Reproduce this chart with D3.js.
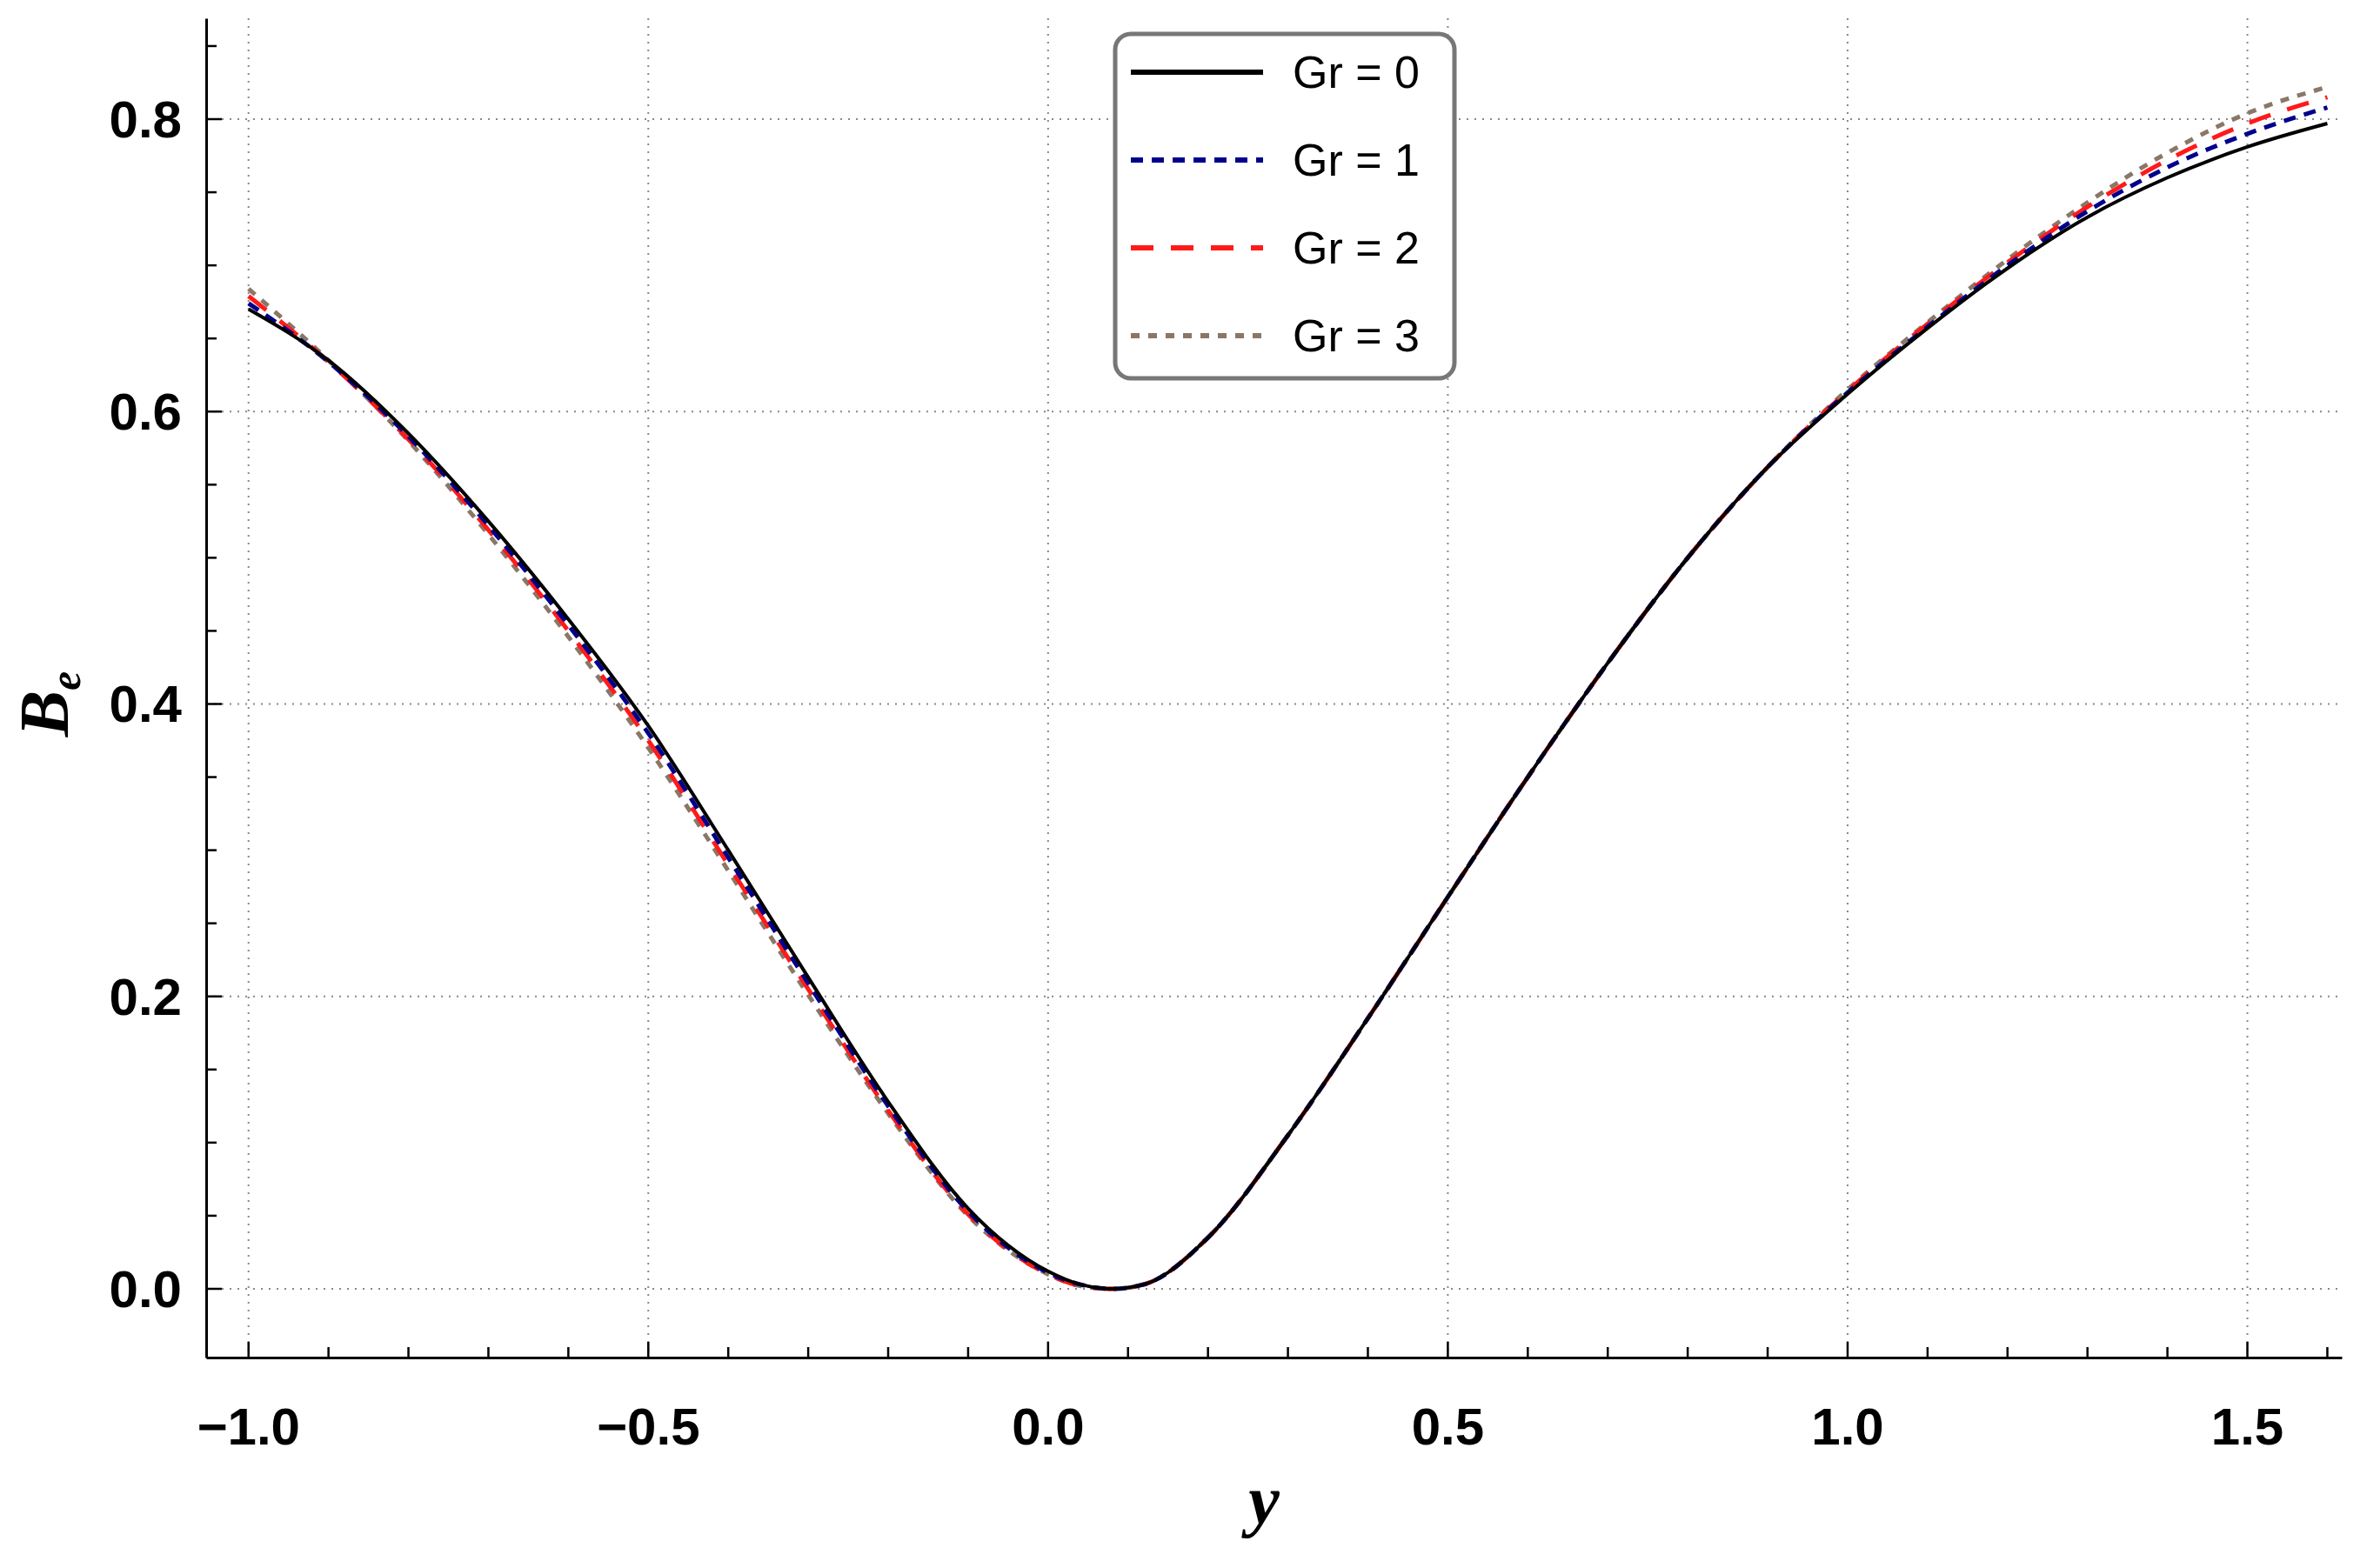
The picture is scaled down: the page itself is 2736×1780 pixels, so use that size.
<!DOCTYPE html>
<html><head><meta charset="utf-8">
<script src="https://cdn.jsdelivr.net/npm/d3@7"></script>
<style>body{margin:0;background:#fff}</style></head>
<body><svg id="c" width="2736" height="1780"></svg>
<script>
const xs = [-1,-0.9,-0.8,-0.7,-0.6,-0.5,-0.4,-0.3,-0.2,-0.1,0,0.04,0.08,0.12,0.2,0.3,0.4,0.5,0.6,0.7,0.8,0.9,1.0,1.1,1.2,1.3,1.4,1.5,1.6];
const gr0 = [0.670,0.635,0.585,0.525,0.458,0.385,0.300,0.213,0.128,0.055,0.012,0.003,0,0.003,0.035,0.105,0.185,0.268,0.350,0.428,0.500,0.562,0.612,0.657,0.698,0.733,0.760,0.781,0.797];
const gr1 = [0.674,0.634,0.583,0.522,0.454,0.380,0.295,0.209,0.125,0.053,0.011,0.003,0,0.003,0.035,0.105,0.185,0.268,0.350,0.428,0.500,0.562,0.613,0.658,0.700,0.737,0.767,0.790,0.808];
const gr2 = [0.679,0.634,0.581,0.519,0.450,0.375,0.290,0.205,0.122,0.051,0.010,0.002,0,0.003,0.035,0.105,0.185,0.268,0.350,0.428,0.500,0.562,0.614,0.660,0.702,0.740,0.772,0.797,0.815];
const gr3 = [0.684,0.635,0.580,0.516,0.446,0.370,0.286,0.201,0.120,0.050,0.010,0.002,0,0.003,0.035,0.105,0.185,0.268,0.350,0.428,0.500,0.562,0.615,0.661,0.704,0.743,0.777,0.804,0.822];
const labels = ["Gr = 0","Gr = 1","Gr = 2","Gr = 3"];
const colors = ["#000000","#00008b","#ff1a1a","#8b7766"];
const dashes = [null,"14,10,14,10","26,20","10,10"];
const xTicks = [-1,-0.5,0,0.5,1,1.5];
const yTicks = [0,0.2,0.4,0.6,0.8];

const svg = d3.select("#c");
const L=237,R=2692,T=21,B=1561;
const x = d3.scaleLinear().domain([-1.053,1.618]).range([L,R]);
const y = d3.scaleLinear().domain([-0.047,0.869]).range([B,T]);

svg.append("g").selectAll("line").data(xTicks).join("line")
 .attr("x1",d=>x(d)).attr("x2",d=>x(d)).attr("y1",T).attr("y2",B)
 .attr("stroke","#888").attr("stroke-width",2).attr("stroke-dasharray","2,7");
svg.append("g").selectAll("line").data(yTicks).join("line")
 .attr("y1",d=>y(d)).attr("y2",d=>y(d)).attr("x1",L).attr("x2",R)
 .attr("stroke","#888").attr("stroke-width",2).attr("stroke-dasharray","2,7");

const fmt = d=>d<0?"\u2212"+Math.abs(d).toFixed(1):d.toFixed(1);
const minor = d3.range(-1,1.61,0.1).map(v=>+v.toFixed(1));
const xa = svg.append("g").attr("transform",`translate(0,${B})`)
 .call(d3.axisBottom(x).tickValues(minor).tickSize(0).tickFormat(""));
xa.select(".domain").attr("stroke","#000").attr("stroke-width",3);
svg.append("g").selectAll("line").data(minor).join("line")
 .attr("x1",d=>x(d)).attr("x2",d=>x(d)).attr("y1",B)
 .attr("y2",d=>B-(Math.abs(d*2-Math.round(d*2))<1e-6?18:12)).attr("stroke","#000").attr("stroke-width",2.5);
svg.append("g").selectAll("text").data(xTicks).join("text")
 .attr("x",d=>x(d)).attr("y",B+100).attr("text-anchor","middle")
 .attr("font-family","Liberation Sans Narrow, Liberation Sans, Arial").attr("font-weight","bold").attr("font-size",60)
 .text(fmt);
const ya = svg.append("g").attr("transform",`translate(${L},0)`)
 .call(d3.axisLeft(y).tickValues([]).tickSize(0));
ya.select(".domain").attr("stroke","#000").attr("stroke-width",3);
svg.append("g").selectAll("line").data(d3.range(0,0.86,0.05)).join("line")
 .attr("y1",d=>y(d)).attr("y2",d=>y(d)).attr("x1",L)
 .attr("x2",(d,i)=>L+(i%4==0?18:12)).attr("stroke","#000").attr("stroke-width",2.5);
svg.append("g").selectAll("text").data(yTicks).join("text")
 .attr("x",L-28).attr("y",d=>y(d)+21).attr("text-anchor","end")
 .attr("font-family","Liberation Sans Narrow, Liberation Sans, Arial").attr("font-weight","bold").attr("font-size",60)
 .text(fmt);

svg.append("text").attr("x",x(0.27)).attr("y",1752).attr("text-anchor","middle")
 .attr("font-family","Liberation Serif, Times New Roman").attr("font-style","italic").attr("font-weight","bold")
 .attr("font-size",80).text("y");
const yt = svg.append("text").attr("transform",`translate(78,${y(0.4)}) rotate(-90)`).attr("text-anchor","middle")
 .attr("font-family","Liberation Serif, Times New Roman").attr("font-style","italic").attr("font-weight","bold").attr("font-size",80);
yt.append("tspan").text("B");
yt.append("tspan").attr("font-size",50).attr("dy",14).text("e");

const series=[gr0,gr1,gr2,gr3];
const line = d3.line().x((d,i)=>x(xs[i])).y(d=>y(d)).curve(d3.curveMonotoneX);
[3,2,1,0].forEach(k=>{
 svg.append("path").datum(series[k]).attr("d",line).attr("fill","none")
  .attr("stroke",colors[k]).attr("stroke-width",k==0?4:5)
  .attr("stroke-dasharray",dashes[k]);
});

const lg = svg.append("g");
lg.append("rect").attr("x",1282).attr("y",39).attr("width",390).attr("height",396).attr("rx",18)
 .attr("fill","#fff").attr("stroke","#777").attr("stroke-width",5);
labels.forEach((t,k)=>{
 const cy=83+k*101;
 lg.append("line").attr("x1",1300).attr("x2",1452).attr("y1",cy).attr("y2",cy)
  .attr("stroke",colors[k]).attr("stroke-width",6).attr("stroke-dasharray",dashes[k]);
 lg.append("text").attr("x",1486).attr("y",cy+18).attr("font-family","Liberation Sans, Arial")
  .attr("font-size",52).text(t);
});
</script></body></html>
